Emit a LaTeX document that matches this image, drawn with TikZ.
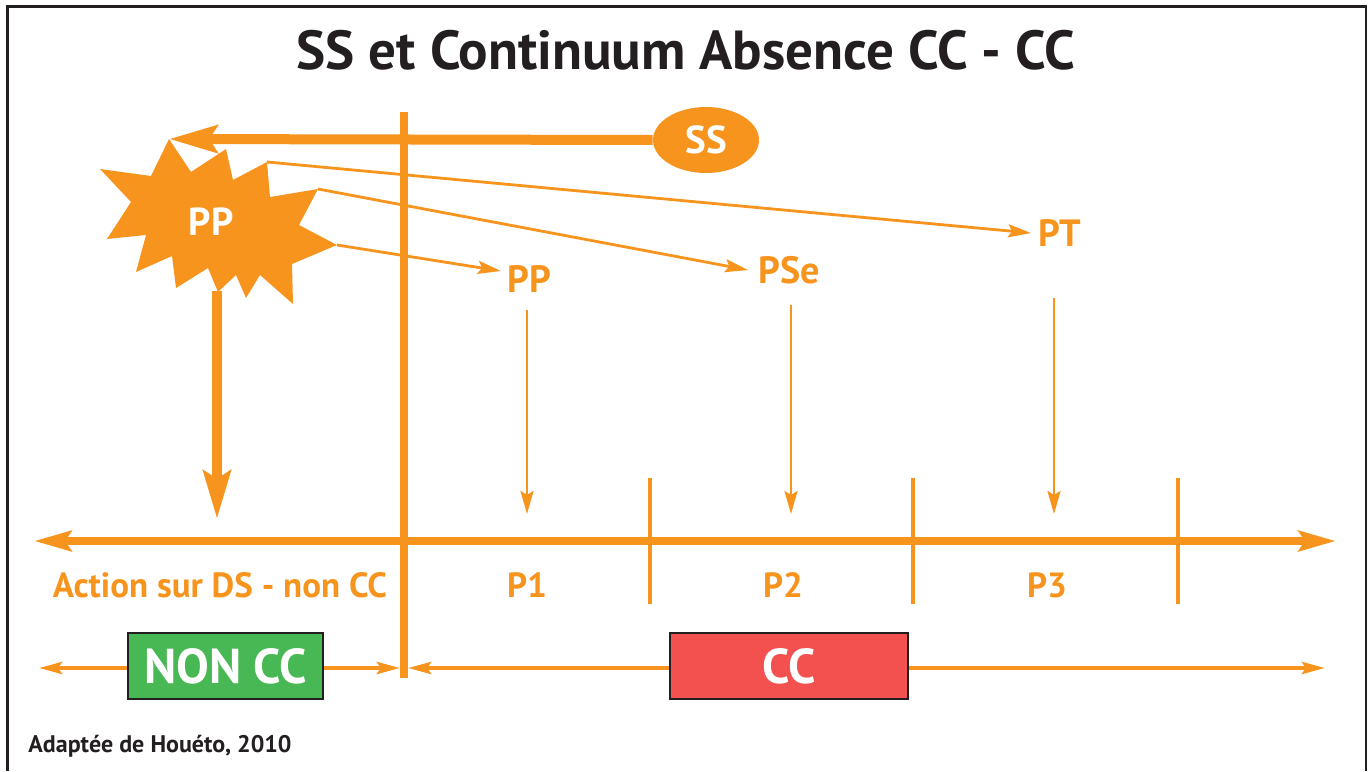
\documentclass[tikz,border=0pt]{standalone}
\usepackage{fontspec}
\setmainfont{PT Sans}
\usepackage{xcolor}
\usetikzlibrary{arrows.meta,positioning,shapes.geometric}

\definecolor{ccorange}{HTML}{F7941D}
\definecolor{ccgreen}{HTML}{48B854}
\definecolor{ccred}{HTML}{F35050}
\definecolor{ccdark}{HTML}{231F20}

\tikzset{
	bigarrow/.style={ccorange,line width=5pt,-{Stealth[length=24pt,width=13.5pt,inset=4pt]}},
	finearrow/.style={ccorange,line width=1.4pt,-{Stealth[length=11.5pt,width=6.5pt,inset=2pt]}},
	axisline/.style={ccorange,line width=4pt,{Stealth[length=18.5pt,width=10pt,inset=3pt]}-{Stealth[length=18.5pt,width=10pt,inset=3pt]}},
	botarrow/.style={ccorange,line width=2.2pt,-{Stealth[length=11.5pt,width=6pt,inset=2pt]}},
	lbl/.style={text=ccorange,inner sep=0pt,font=\bfseries\fontsize{19}{20}\selectfont},
	axlbl/.style={text=ccorange,inner sep=0pt,font=\bfseries\fontsize{17.5}{19}\selectfont},
	ccbox/.style={draw=ccdark,line width=1.2pt,text=white,inner sep=0pt,minimum height=33pt,font=\bfseries\fontsize{24.5}{26}\selectfont}
}

\begin{document}
\begin{tikzpicture}[x=0.5pt,y=-0.5pt]
	\useasboundingbox (0,0) rectangle (1370,771);
	% frame
	\draw[ccdark,line width=1.1pt] (7.5,771) -- (7.5,6.5) -- (1366,6.5) -- (1366,771);
	
	\node[text=ccdark,font=\bfseries\fontsize{27.5}{30}\selectfont] (title) at (686,50) {SS et Continuum Absence CC - CC};
	
	% main vertical line
	\coordinate (vtop) at (404,112);
	\coordinate (vbot) at (404,678);
	\draw[ccorange,line width=4pt] (vtop) -- (vbot);
	
	% star PP
	\foreach \px/\py [count=\i] in {169/139,191/172,226/149,233/180,267/162,270/197,318/189,299/225,337/245,292/264,293/304,260/275,246/298,236/275,218/292,208/268,176/288,172/256,136/272,146/235,107/239,131/202,100/169,151/176}
		\coordinate (pp\i) at (\px,\py);
	\fill[ccorange] (pp1) \foreach \i in {2,...,24} {-- (pp\i)} -- cycle;
	\node[text=white,font=\bfseries\fontsize{19.5}{20}\selectfont] (star) at (211,222) {PP};
	
	% SS
	\node[ellipse,fill=ccorange,inner sep=0pt,minimum width=53pt,minimum height=33pt,text=white,font=\bfseries\fontsize{19.5}{20}\selectfont] (ss) at (706,140) {SS};
	\draw[bigarrow] (ss.west) -- (pp1);
	
	% labels
	\node[lbl] (lblpp) at (529,279) {PP};
	\node[lbl] (lblpse) at (789,270) {PSe};
	\node[lbl] (lblpt) at (1060,233) {PT};
	\draw[finearrow] (pp9) -- ([xshift=-3pt,yshift=4pt]lblpp.west);
	\draw[finearrow] (pp7) -- ([xshift=-5pt]lblpse.west);
	\draw[finearrow] (pp5) -- ([xshift=-3.5pt]lblpt.west);
	
	% down arrows
	\coordinate (p1top) at (527,310);
	\coordinate (p1end) at (527,514);
	\coordinate (p2top) at (791,305);
	\coordinate (p2end) at (791,514);
	\coordinate (p3top) at (1054,298);
	\coordinate (p3end) at (1054,514);
	\draw[finearrow] (p1top) -- (p1end);
	\draw[finearrow] (p2top) -- (p2end);
	\draw[finearrow] (p3top) -- (p3end);
	\coordinate (ppbot) at (217,291);
	\coordinate (ppend) at (217,519);
	\draw[bigarrow] (ppbot) -- (ppend);
	
	% axis
	\coordinate (axl) at (34,541);
	\coordinate (axr) at (1336,541);
	\draw[axisline] (axl) -- (axr);
	\foreach \tx in {650,913,1178}
		\draw[ccorange,line width=2pt] (\tx,478) -- (\tx,604);
	
	\node[axlbl] (act) at (220,585) {Action sur DS - non CC};
	\node[axlbl] (pa) at (527,585) {P1};
	\node[axlbl] (pb) at (783,585) {P2};
	\node[axlbl] (pc) at (1047,585) {P3};
	
	% bottom row
	\node[ccbox,fill=ccgreen,minimum width=97.5pt] (noncc) at (225.5,666) {NON CC};
	\node[ccbox,fill=ccred,minimum width=119pt] (cc) at (789,666) {CC};
	\coordinate (bl) at (39,668);
	\coordinate (bm1) at (400,668);
	\coordinate (bm2) at (408,668);
	\coordinate (br) at (1325,668);
	\draw[botarrow] (noncc.west |- bl) -- (bl);
	\draw[botarrow] (noncc.east |- bm1) -- (bm1);
	\draw[botarrow] (cc.west |- bm2) -- (bm2);
	\draw[botarrow] (cc.east |- br) -- (br);
	
	\node[anchor=base west,text=ccdark,inner sep=0pt,font=\bfseries\fontsize{12}{14}\selectfont] (src) at (28,752) {Adaptée de Houéto, 2010};
\end{tikzpicture}
\end{document}
